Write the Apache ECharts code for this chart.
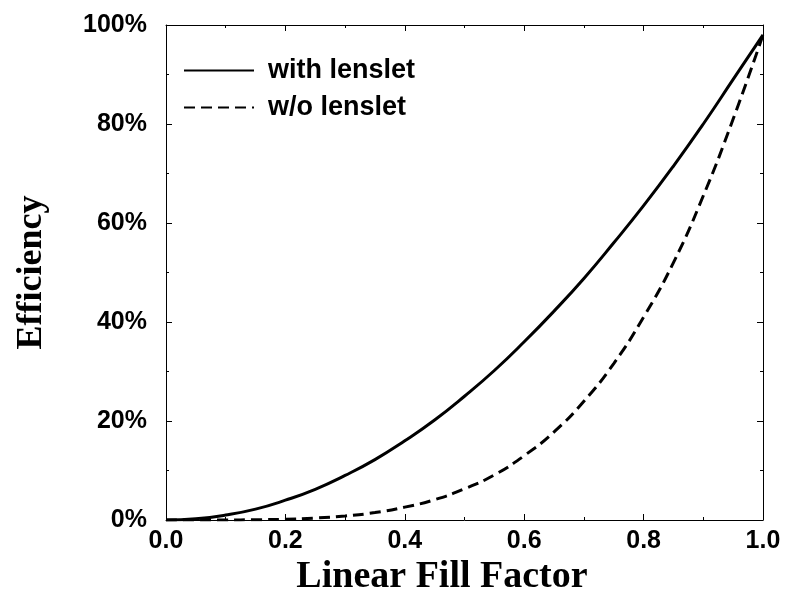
<!DOCTYPE html>
<html>
<head>
<meta charset="utf-8">
<script src="https://cdn.jsdelivr.net/npm/echarts@6/dist/echarts.min.js"></script>
<style>
  html, body { margin: 0; padding: 0; background: #fff; }
  #chart { width: 788px; height: 595px; }
</style>
</head>
<body>
<div id="chart"></div>
<script>
// fill factor samples
var fillFactor = [0, 0.05, 0.1, 0.15, 0.2, 0.25, 0.3, 0.35, 0.4, 0.45, 0.5,
                  0.55, 0.6, 0.65, 0.7, 0.75, 0.8, 0.85, 0.9, 0.95, 1.0];
// efficiency in %
var withLenslet = [0, 0.25, 1, 2.2, 4, 6.2, 9, 12.2, 16, 20.2, 25,
                   30.2, 36, 42.2, 48.8, 56, 63.5, 71.5, 80, 89, 98];
var withoutLenslet = [0, 0, 0.01, 0.05, 0.16, 0.4, 0.8, 1.5, 2.6, 4.1, 6.3,
                      9.1, 13, 17.8, 24, 31.6, 41, 52, 65.5, 81, 98];
var seriesNames = ['with lenslet', 'w/o lenslet'];

function pairs(xs, ys) {
    return xs.map(function (x, i) { return [x, ys[i]]; });
}

var sansBold = { fontFamily: '"Liberation Sans", Arial, sans-serif', fontWeight: 'bold', color: '#000' };
var serifBold = { fontFamily: '"Liberation Serif", "Times New Roman", serif', fontWeight: 'bold', color: '#000' };

// common tick look, inward ticks on every side
var axisLine = { show: true, onZero: false, lineStyle: { color: '#000', width: 1 } };
var axisTick = { show: true, inside: true, length: 6, lineStyle: { color: '#000', width: 1 } };
var minorTick = { show: true, splitNumber: 2, length: 3, lineStyle: { color: '#000', width: 1 } };

var chart = echarts.init(document.getElementById('chart'));
chart.setOption({
    backgroundColor: '#fff',
    animation: false,
    grid: { left: 166, right: 25, top: 25, bottom: 75, outerBoundsMode: 'none' },
    legend: {
        orient: 'vertical',
        left: 183,
        top: 57,
        padding: 0,
        itemWidth: 70,
        itemHeight: 14,
        itemGap: 10,
        data: seriesNames,
        // hide the dot that line series put on the legend line
        itemStyle: { opacity: 0 },
        textStyle: Object.assign({ fontSize: 27, padding: [0, 0, 0, 9] }, sansBold)
    },
    xAxis: [
        {
            type: 'value', min: 0, max: 1, interval: 0.2,
            name: 'Linear Fill Factor',
            nameLocation: 'middle',
            nameGap: 38,
            nameMoveOverlap: false,
            nameTextStyle: Object.assign({ fontSize: 38, padding: [0, 45, 0, 0] }, serifBold),
            axisLine: axisLine, axisTick: axisTick, minorTick: minorTick,
            splitLine: { show: false },
            axisLabel: Object.assign({
                fontSize: 25, margin: 9,
                formatter: function (v) { return v.toFixed(1); }
            }, sansBold)
        },
        {
            type: 'value', min: 0, max: 1, interval: 0.2, position: 'top',
            axisLine: axisLine, axisTick: axisTick, minorTick: minorTick,
            splitLine: { show: false }, axisLabel: { show: false }
        }
    ],
    yAxis: [
        {
            type: 'value', min: 0, max: 100, interval: 20,
            name: 'Efficiency',
            nameLocation: 'middle',
            nameRotate: 90,
            nameGap: 116,
            nameMoveOverlap: false,
            nameTextStyle: Object.assign({ fontSize: 36 }, serifBold),
            axisLine: axisLine, axisTick: axisTick, minorTick: minorTick,
            splitLine: { show: false },
            axisLabel: Object.assign({
                fontSize: 25, margin: 19,
                formatter: function (v) { return v + '%'; }
            }, sansBold)
        },
        {
            type: 'value', min: 0, max: 100, interval: 20, position: 'right',
            axisLine: axisLine, axisTick: axisTick, minorTick: minorTick,
            splitLine: { show: false }, axisLabel: { show: false }
        }
    ],
    series: [
        {
            name: seriesNames[0],
            type: 'line',
            data: pairs(fillFactor, withLenslet),
            smooth: true,
            symbol: 'none',
            lineStyle: { color: '#000', width: 3, type: 'solid' },
            itemStyle: { color: '#000' }
        },
        {
            name: seriesNames[1],
            type: 'line',
            data: pairs(fillFactor, withoutLenslet),
            smooth: true,
            symbol: 'none',
            lineStyle: { color: '#000', width: 3, type: [11, 6] },
            itemStyle: { color: '#000' }
        }
    ]
});
</script>
</body>
</html>
